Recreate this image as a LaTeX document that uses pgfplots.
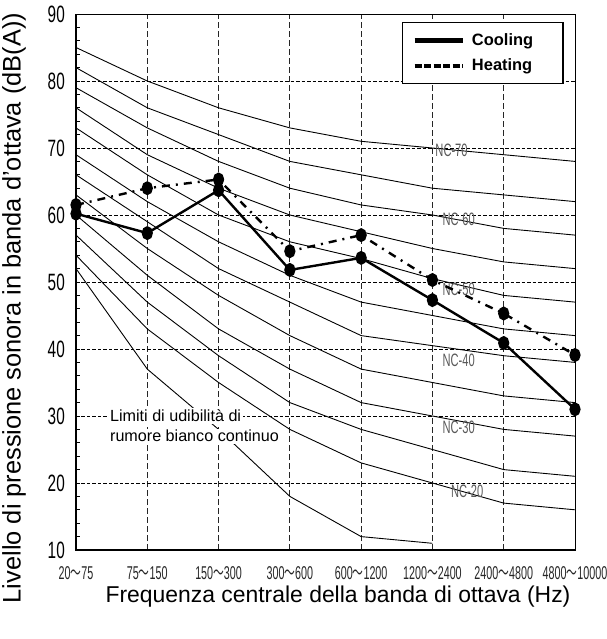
\documentclass[border=0pt]{standalone}
\usepackage{fontspec}
\setmainfont{Liberation Sans}
\newfontfamily\cjk{Noto Sans CJK JP}
\usepackage{graphicx}
\usepackage{pgfplots}
\pgfplotsset{compat=1.18}

% narrow tick labels, as in the original
\newcommand{\band}[2]{\scalebox{0.58}[1]{#1{\cjk ～}#2}}
\newcommand{\nc}[1]{\scalebox{0.62}[1]{NC-#1}}

\begin{document}
\begin{tikzpicture}
\path[use as bounding box] (-76bp,-89bp) rectangle (531bp,550bp);
\begin{axis}[
    at={(0,0)}, anchor=south west,
    scale only axis, width=499bp, height=536bp,
    xmin=0, xmax=7, ymin=10, ymax=90,
    clip=false,
    /pgf/number format/assume math mode=true,
    axis line style={line width=1bp},
    xtick={0,...,7},
    xticklabels={\band{20}{75},\band{75}{150},\band{150}{300},\band{300}{600},
                 \band{600}{1200},\band{1200}{2400},\band{2400}{4800},\band{4800}{10000}},
    xtick style={draw=none},
    xticklabel style={anchor=center, yshift=-23bp, font=\fontsize{18.6}{20}\selectfont, color=black!85},
    ytick={10,20,...,90},
    minor y tick num=4,
    ytick pos=left,
    tick align=inside,
    major tick length=4bp, minor tick length=4bp,
    ytick style={black, line width=1bp},
    yticklabel={\scalebox{0.65}[1]{\pgfmathprintnumber{\tick}}},
    yticklabel style={anchor=east, inner sep=0pt, xshift=-11bp, font=\fontsize{23.7}{25}\selectfont},
    xmajorgrids, ymajorgrids,
    major x grid style={black!85, line width=0.9bp, dash pattern=on 6bp off 3bp},
    major y grid style={black, line width=0.9bp, dash pattern=on 3.5bp off 2bp},
    xlabel={Frequenza centrale della banda di ottava (Hz)},
    xlabel style={at={(axis description cs:0.525,-0.086)}, anchor=center, font=\fontsize{23}{26}\selectfont},
    ylabel={Livello di pressione sonora in banda d'ottava (dB(A))},
    ylabel style={at={(axis description cs:-0.124,0.4515)}, anchor=center, font=\fontsize{25.5}{28}\selectfont},
    legend style={at={(axis cs:6.84,88.8)}, anchor=north east, draw=black, line width=1.2bp,
        fill=white, font=\bfseries\fontsize{16.5}{18}\selectfont,
        inner xsep=10bp, inner ysep=8bp, row sep=6bp, nodes={inner sep=3bp}},
    legend cell align=left,
    legend columns=1,
    nc/.style={black, line width=0.9bp, forget plot},
  ]
  % thick left and bottom axis lines
  \draw[line width=2.2bp] (axis cs:0,90) -- (axis cs:0,10) -- (axis cs:7,10);

  % NC curves
  \addplot[nc] coordinates {(0,85) (1,80) (2,76) (3,73) (4,71) (5,70) (6,69) (7,68)};
  \addplot[nc] coordinates {(0,82) (1,76) (2,72) (3,68) (4,66) (5,64) (6,63) (7,62)};
  \addplot[nc] coordinates {(0,79) (1,73) (2,68) (3,64) (4,61.5) (5,60) (6,58) (7,57)};
  \addplot[nc] coordinates {(0,76) (1,69) (2,64) (3,60) (4,57.5) (5,55) (6,53) (7,52)};
  \addplot[nc] coordinates {(0,73) (1,66) (2,60) (3,56) (4,53.5) (5,50.5) (6,48) (7,47)};
  \addplot[nc] coordinates {(0,69) (1,62) (2,56) (3,51) (4,47) (5,45) (6,43) (7,42)};
  \addplot[nc] coordinates {(0,66) (1,59) (2,52) (3,47) (4,42) (5,40.5) (6,39) (7,38)};
  \addplot[nc] coordinates {(0,63) (1,55) (2,48) (3,42) (4,37) (5,35) (6,33) (7,32)};
  \addplot[nc] coordinates {(0,60) (1,51) (2,43) (3,37) (4,32) (5,30) (6,28) (7,27)};
  \addplot[nc] coordinates {(0,57) (1,47) (2,39) (3,32) (4,28) (5,25) (6,22) (7,21)};
  \addplot[nc] coordinates {(0,54) (1,43) (2,35) (3,28) (4,23) (5,20) (6,17) (7,16)};
  % limits of audibility
  \addplot[nc] coordinates {(0,52) (1,37) (2,28) (3,18) (4,12) (5,11)};

  \node[anchor=west, inner sep=0pt, text=black!65, font=\fontsize{18}{20}\selectfont] at (axis cs:5.04,69.7) {\nc{70}};
  \node[anchor=west, inner sep=0pt, text=black!65, font=\fontsize{18}{20}\selectfont] at (axis cs:5.14,59.3) {\nc{60}};
  \node[anchor=west, inner sep=0pt, text=black!65, font=\fontsize{18}{20}\selectfont] at (axis cs:5.14,48.9) {\nc{50}};
  \node[anchor=west, inner sep=0pt, text=black!65, font=\fontsize{18}{20}\selectfont] at (axis cs:5.14,38.3) {\nc{40}};
  \node[anchor=west, inner sep=0pt, text=black!65, font=\fontsize{18}{20}\selectfont] at (axis cs:5.14,28.3) {\nc{30}};
  \node[anchor=west, inner sep=0pt, text=black!65, font=\fontsize{18}{20}\selectfont] at (axis cs:5.26,18.7) {\nc{20}};

  \node[anchor=west, fill=white, inner sep=1.5bp, font=\fontsize{16.2}{17}\selectfont] at (axis cs:0.455,30) {Limiti di udibilità di};
  \node[anchor=west, fill=white, inner sep=1.5bp, font=\fontsize{16.2}{17}\selectfont] at (axis cs:0.455,27.0) {rumore bianco continuo};

  % measured spectra
  \addplot[black, line width=2.4bp, mark=*, mark size=4.4bp, mark options={solid, yscale=1.3},
      legend image code/.code={\draw[line width=4.5bp, solid] (0bp,0bp) -- (48bp,0bp);}]
    coordinates {(0,60.2) (1,57.3) (2,63.7) (3,51.8) (4,53.6) (5,47.3) (6,40.9) (7,31.0)};
  \addlegendentry{\makebox[82bp][l]{\hspace{4bp}Cooling}}
  \addplot[black, line width=2.4bp, dash pattern=on 8bp off 6bp on 2bp off 6bp,
      mark=*, mark size=4.4bp, mark options={solid, yscale=1.3},
      legend image code/.code={\draw[line width=4.5bp, dash pattern=on 7bp off 2.5bp] (0bp,0bp) -- (48bp,0bp);}]
    coordinates {(0,61.5) (1,64.0) (2,65.3) (3,54.6) (4,57.0) (5,50.3) (6,45.3) (7,39.1)};
  \addlegendentry{\makebox[82bp][l]{\hspace{4bp}Heating}}
\end{axis}
\end{tikzpicture}
\end{document}
